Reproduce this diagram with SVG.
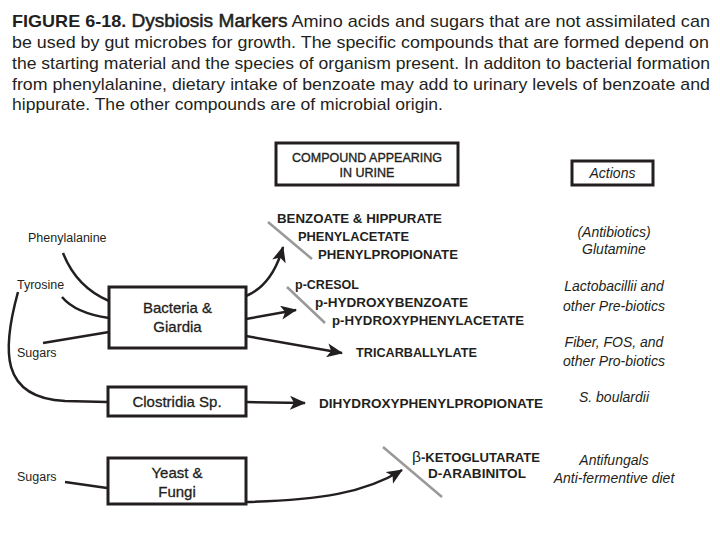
<svg xmlns="http://www.w3.org/2000/svg" width="720" height="540" viewBox="0 0 720 540">
<style>
  .cap{font-family:"Liberation Sans",Arial,sans-serif;font-size:17px;fill:#231f20}
  .box{fill:#fff;stroke:#231f20;stroke-width:3}
  .bt{font-family:"Liberation Sans",Arial,sans-serif;font-size:15px;fill:#231f20;text-anchor:middle;stroke:#231f20;stroke-width:0.3}
  .hd{font-family:"Liberation Sans",Arial,sans-serif;font-size:12.5px;fill:#231f20;text-anchor:middle;stroke:#231f20;stroke-width:0.35}
  .lb{font-family:"Liberation Sans",Arial,sans-serif;font-size:12.5px;fill:#231f20}
  .cp{font-family:"Liberation Sans",Arial,sans-serif;font-size:12.5px;font-weight:bold;fill:#231f20}
  .ac{font-family:"Liberation Sans",Arial,sans-serif;font-size:14px;font-style:italic;fill:#231f20;text-anchor:middle}
  .ln{fill:none;stroke:#231f20;stroke-width:2.5}
  .sl{fill:none;stroke:#999;stroke-width:2.5}
</style>
<defs>
  <marker id="ah" markerUnits="userSpaceOnUse" markerWidth="16" markerHeight="14" refX="15" refY="7" orient="auto">
    <path d="M0,0 L16,7 L0,14 L4,7 Z" fill="#231f20"/>
  </marker>
</defs>
<rect width="720" height="540" fill="#fff"/>

<g id="caption">
  <text class="cap" x="12" y="27" textLength="698" lengthAdjust="spacingAndGlyphs"><tspan font-weight="bold">FIGURE 6-18.</tspan> <tspan font-size="18" stroke="#231f20" stroke-width="0.5">Dysbiosis Markers</tspan> Amino acids and sugars that are not assimilated can</text>
  <text class="cap" x="12" y="48" textLength="697" lengthAdjust="spacingAndGlyphs">be used by gut microbes for growth. The specific compounds that are formed depend on</text>
  <text class="cap" x="12" y="69" textLength="698" lengthAdjust="spacingAndGlyphs">the starting material and the species of organism present. In additon to bacterial formation</text>
  <text class="cap" x="12" y="90" textLength="698" lengthAdjust="spacingAndGlyphs">from phenylalanine, dietary intake of benzoate may add to urinary levels of benzoate and</text>
  <text class="cap" x="12" y="110" textLength="431" lengthAdjust="spacingAndGlyphs">hippurate. The other compounds are of microbial origin.</text>
</g>

<g id="connectors">
  <path class="ln" d="M63,253 C72,276 88,292 109,301"/>
  <path class="ln" d="M62,297 C72,309 88,315 109,318"/>
  <path class="ln" d="M43,343 L109,332"/>
  <path class="ln" d="M18,292 C2,350 0,398 65,401 L107,402"/>
  <path class="ln" d="M246,296 C263,289 276,272 283,247" marker-end="url(#ah)"/>
  <path class="ln" d="M246,319 L296,310" marker-end="url(#ah)"/>
  <path class="ln" d="M246,336 L342,353" marker-end="url(#ah)"/>
  <path class="ln" d="M246,402 L305,403" marker-end="url(#ah)"/>
  <path class="ln" d="M65,482 L107,488"/>
  <path class="ln" d="M246,502 C320,500 365,493 402,470" marker-end="url(#ah)"/>
  <path class="sl" d="M268,222 L312,259"/>
  <path class="sl" d="M287,287 L325,323"/>
  <path class="sl" d="M383,447 L442,497"/>
</g>

<g id="header-compound">
  <rect class="box" x="276" y="143" width="182" height="42"/>
  <text class="hd" x="367" y="162">COMPOUND APPEARING</text>
  <text class="hd" x="367" y="177">IN URINE</text>
</g>
<g id="header-actions">
  <rect class="box" x="572" y="161" width="81" height="24"/>
  <text class="ac" x="612.5" y="178">Actions</text>
</g>

<g id="inputs">
  <text class="lb" x="28" y="242">Phenylalanine</text>
  <text class="lb" x="17" y="289">Tyrosine</text>
  <text class="lb" x="17" y="357">Sugars</text>
  <text class="lb" x="17" y="481">Sugars</text>
</g>

<g id="bacteria">
  <rect class="box" x="109" y="287" width="137" height="61"/>
  <text class="bt" x="177.5" y="313">Bacteria &amp;</text>
  <text class="bt" x="177.5" y="332">Giardia</text>
</g>
<g id="clostridia">
  <rect class="box" x="108" y="387" width="138" height="29"/>
  <text class="bt" x="177" y="407">Clostridia Sp.</text>
</g>
<g id="yeast">
  <rect class="box" x="108" y="458" width="138" height="46"/>
  <text class="bt" x="177" y="478">Yeast &amp;</text>
  <text class="bt" x="177" y="497">Fungi</text>
</g>

<g id="compounds">
  <text class="cp" x="277" y="223" textLength="165" lengthAdjust="spacingAndGlyphs">BENZOATE &amp; HIPPURATE</text>
  <text class="cp" x="298" y="241" textLength="111" lengthAdjust="spacingAndGlyphs">PHENYLACETATE</text>
  <text class="cp" x="318" y="259" textLength="140" lengthAdjust="spacingAndGlyphs">PHENYLPROPIONATE</text>
  <text class="cp" x="295" y="289" textLength="64" lengthAdjust="spacingAndGlyphs">p-CRESOL</text>
  <text class="cp" x="315" y="307" textLength="153" lengthAdjust="spacingAndGlyphs">p-HYDROXYBENZOATE</text>
  <text class="cp" x="332" y="325" textLength="192" lengthAdjust="spacingAndGlyphs">p-HYDROXYPHENYLACETATE</text>
  <text class="cp" x="356" y="357" textLength="121" lengthAdjust="spacingAndGlyphs">TRICARBALLYLATE</text>
  <text class="cp" x="319" y="408" textLength="224" lengthAdjust="spacingAndGlyphs">DIHYDROXYPHENYLPROPIONATE</text>
  <text class="cp" x="412" y="462" textLength="128" lengthAdjust="spacingAndGlyphs"><tspan font-weight="normal" font-size="15">β</tspan>-KETOGLUTARATE</text>
  <text class="cp" x="428" y="478" textLength="98" lengthAdjust="spacingAndGlyphs">D-ARABINITOL</text>
</g>

<g id="actions">
  <text class="ac" x="614" y="237">(Antibiotics)</text>
  <text class="ac" x="614" y="254">Glutamine</text>
  <text class="ac" x="614" y="291">Lactobacillii and</text>
  <text class="ac" x="614" y="311">other Pre-biotics</text>
  <text class="ac" x="614" y="347">Fiber, FOS, and</text>
  <text class="ac" x="614" y="366">other Pro-biotics</text>
  <text class="ac" x="614" y="402">S. boulardii</text>
  <text class="ac" x="614" y="465">Antifungals</text>
  <text class="ac" x="614" y="483">Anti-fermentive diet</text>
</g>
</svg>
